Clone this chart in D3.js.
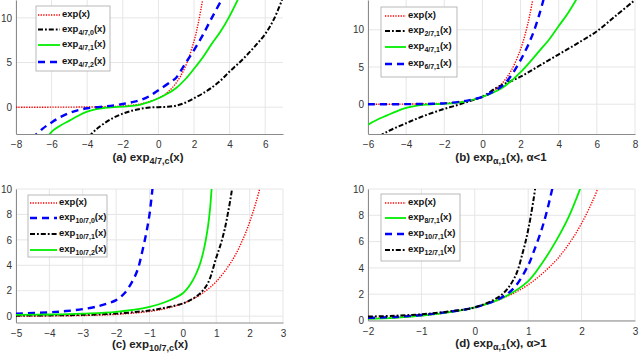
<!DOCTYPE html>
<html>
<head>
<meta charset="utf-8">
<script src="https://cdn.jsdelivr.net/npm/d3@7"></script>
<style>
  body { margin: 0; background: #fff; }
  svg { display: block; font-family: "Liberation Sans", Arial, sans-serif; }
</style>
</head>
<body>
<svg id="chart" width="640" height="360"></svg>
<script>
// DATA

// (a) exp_{4/7,c}(x)
const aExp = [[-8,0],[-5,0.01],[-3,0.05],[-2,0.14],[-1,0.37],[0,1],[0.5,1.65],[1,2.72],[1.5,4.48],[2,7.39],[2.25,9.5],[2.5,12.2]];
const aC0 = [[-3.9,-3.3],[-3.5,-2.5],[-3,-1.75],[-2.5,-1.15],[-2,-0.72],[-1.5,-0.4],[-1,-0.18],[-0.5,-0.04],[0,0],[0.5,0.04],[1,0.18],[1.5,0.5],[2,1.0],[2.5,1.55],[3,2.2],[3.5,3.0],[4,4.0],[4.5,4.9],[5,5.9],[5.5,7.0],[6,8.2],[6.5,9.9],[7,12.3]];
const aC1 = [[-6.2,-3.3],[-6,-2.75],[-5.5,-2.05],[-5,-1.5],[-4.5,-0.95],[-4,-0.5],[-3.5,-0.22],[-3,-0.06],[-2.5,0.01],[-2,0.06],[-1.5,0.14],[-1,0.3],[-0.5,0.6],[0,1],[0.5,1.5],[1,2.15],[1.5,3.1],[2,4.3],[2.5,5.6],[3,7.1],[3.5,8.5],[4,10.2],[4.5,12.2]];
const aC2 = [[-7.1,-3.5],[-6.5,-2.4],[-6,-1.7],[-5.5,-1.1],[-5,-0.65],[-4.5,-0.32],[-4,-0.12],[-3.5,0],[-3,0.08],[-2.5,0.2],[-2,0.36],[-1.5,0.55],[-1,0.8],[-0.5,1.25],[0,1.9],[0.7,2.85],[1,3.3],[1.45,4.7],[2,6.4],[2.5,8.1],[3,10.0],[3.6,12.2]];

// (b) exp_{alpha,1}(x), alpha<1
const bExp = [[-6,0],[-4,0.02],[-2,0.14],[-1,0.37],[0,1],[0.5,1.65],[1,2.72],[1.5,4.48],[2,7.39],[2.3,9.97],[2.5,12.2],[2.7,14.9]];
const bA2 = [[-5.4,-4.3],[-5,-3.7],[-4.5,-3.1],[-4,-2.55],[-3.5,-2.0],[-3,-1.5],[-2.5,-1.05],[-2,-0.62],[-1.5,-0.25],[-1,0.15],[-0.5,0.55],[0,1],[0.7,2.15],[1,2.55],[2,3.7],[3,5.2],[4,6.7],[5,8.2],[6,9.8],[7,11.9],[8,14]];
const bA4 = [[-6,-2.75],[-5.5,-2.05],[-5,-1.5],[-4.5,-0.95],[-4,-0.5],[-3.5,-0.22],[-3,-0.06],[-2.5,0.01],[-2,0.06],[-1.5,0.14],[-1,0.3],[-0.5,0.6],[0,1],[0.5,1.5],[1,2.15],[1.5,3.1],[2,4.3],[2.5,5.7],[3,7.2],[3.5,8.7],[4,10.5],[4.5,12.3],[5,14.4]];
const bA6 = [[-6,0],[-4,0.01],[-3,0.04],[-2,0.12],[-1,0.4],[-0.5,0.65],[0,1],[0.5,1.6],[1.1,2.6],[1.6,4.2],[2.2,6.9],[2.66,9.55],[3,12.2],[3.25,14.5]];

// (c) exp_{10/7,c}(x)
const cExp = [[-5,0.01],[-4,0.02],[-3,0.05],[-2,0.14],[-1,0.37],[-0.5,0.61],[0,1],[0.5,1.65],[1,2.72],[1.5,4.48],[1.8,6.05],[2,7.39],[2.2,9.03],[2.35,10.5]];
const cC0 = [[-5,0.2],[-4,0.3],[-3.5,0.4],[-3,0.55],[-2.5,0.8],[-2.25,1.0],[-2,1.26],[-1.75,1.8],[-1.5,2.8],[-1.35,3.7],[-1.25,4.7],[-1.1,6.5],[-1,8.0],[-0.9,10.3]];
const cC1 = [[-5,0.04],[-4,0.06],[-3,0.1],[-2,0.2],[-1,0.45],[-0.5,0.68],[0,1.0],[0.25,1.3],[0.5,1.75],[0.75,2.6],[1,4.6],[1.15,5.8],[1.25,6.8],[1.35,8.1],[1.45,9.6],[1.5,10.5]];
const cC2 = [[-5,0.1],[-4,0.13],[-3,0.2],[-2,0.34],[-1,0.73],[-0.5,1.13],[0,1.8],[0.25,2.6],[0.5,4.0],[0.65,5.5],[0.75,7.0],[0.82,8.6],[0.87,10.4]];

// (d) exp_{alpha,1}(x), alpha>1
const dExp = [[-2,0.14],[-1.5,0.22],[-1,0.37],[-0.5,0.61],[0,1],[0.5,1.65],[1,2.72],[1.5,4.48],[1.8,6.05],[2,7.39],[2.2,9.03],[2.35,10.5]];
const dA8 = [[-2,0.12],[-1.5,0.2],[-1,0.37],[-0.5,0.61],[0,1],[0.5,1.68],[1,3.0],[1.25,4.3],[1.5,5.9],[1.75,7.8],[2,10.3]];
const dA10 = [[-2,0.2],[-1.5,0.27],[-1,0.42],[-0.5,0.65],[0,1],[0.5,1.75],[0.75,2.55],[1,4.2],[1.1,5.2],[1.25,6.9],[1.35,8.3],[1.45,10.0],[1.5,10.8]];
const dA12 = [[-2,0.3],[-1.5,0.36],[-1,0.47],[-0.5,0.68],[0,1],[0.5,1.95],[0.75,3.3],[0.9,5.2],[1,6.9],[1.1,9.2],[1.15,10.6]];

// Axis ranges and tick labels
const aXDomain = [-8, 7], aYDomain = [-3, 12];
const bXDomain = [-6, 8], bYDomain = [-4, 14];
const cXDomain = [-5, 3], cYDomain = [-0.5, 10];
const dXDomain = [-2, 3], dYDomain = [0, 10];
const aXTicks = [-8, -6, -4, -2, 0, 2, 4, 6], aYTicks = [0, 5, 10];
const bXTicks = [-6, -4, -2, 0, 2, 4, 6, 8], bYTicks = [0, 5, 10];
const cXTicks = [-5, -4, -3, -2, -1, 0, 1, 2, 3], cYTicks = [0, 2, 4, 6, 8, 10];
const dXTicks = [-2, -1, 0, 1, 2, 3], dYTicks = [0, 2, 4, 6, 8, 10];

// Legend subscripts (label is "exp" + sub + "(x)", null sub means plain exp(x))
const aLegend = [null, "4/7,0", "4/7,1", "4/7,2"];
const bLegend = [null, "2/7,1", "4/7,1", "6/7,1"];
const cLegend = [null, "10/7,0", "10/7,1", "10/7,2"];
const dLegend = [null, "8/7,1", "10/7,1", "12/7,1"];

// Line styles
const styles = {
  red:   { color: "#ff0000", width: 1.4, dash: "1.3,1.3" },
  black: { color: "#000000", width: 2,   dash: "5,2,1.8,2" },
  green: { color: "#00ee00", width: 1.8, dash: null },
  blue:  { color: "#0000ff", width: 2.4, dash: "7,5" }
};

// Layout of each panel (pixels)
const panels = [
  { id: "a", left: 16, right: 283, top: 0, bottom: 134,
    xd: aXDomain, yd: aYDomain, xt: aXTicks, yt: aYTicks,
    series: [aExp, aC0, aC1, aC2], sty: ["red", "black", "green", "blue"], leg: aLegend,
    lg: { x: 36, y: 6, w: 74, h: 65, rows: [15, 29.5, 45, 62], lx0: 38, lx1: 60, tx: 62 },
    title: { x: 148, y: 161, pre: "(a) exp", sub: "4/7,c", post: "(x)" } },
  { id: "b", left: 368, right: 635, top: 0, bottom: 134,
    xd: bXDomain, yd: bYDomain, xt: bXTicks, yt: bYTicks,
    series: [bExp, bA2, bA4, bA6], sty: ["red", "black", "green", "blue"], leg: bLegend,
    lg: { x: 381, y: 7, w: 76, h: 70, rows: [16, 31, 47, 64], lx0: 385, lx1: 406, tx: 408 },
    title: { x: 501, y: 161, pre: "(b) exp", sub: "\u03B1,1", post: "(x), \u03B1<1" } },
  { id: "c", left: 16, right: 283, top: 189, bottom: 322.5,
    xd: cXDomain, yd: cYDomain, xt: cXTicks, yt: cYTicks,
    series: [cExp, cC0, cC1, cC2], sty: ["red", "blue", "black", "green"], leg: cLegend,
    lg: { x: 28, y: 195, w: 79, h: 62, rows: [203, 218, 234, 250], lx0: 30, lx1: 57, tx: 59 },
    title: { x: 150, y: 348, pre: "(c) exp", sub: "10/7,c", post: "(x)" } },
  { id: "d", left: 368, right: 635, top: 189, bottom: 320.5,
    xd: dXDomain, yd: dYDomain, xt: dXTicks, yt: dYTicks,
    series: [dExp, dA8, dA10, dA12], sty: ["red", "green", "blue", "black"], leg: dLegend,
    lg: { x: 381, y: 194, w: 79, h: 67, rows: [203, 218, 234, 250], lx0: 385, lx1: 406, tx: 408 },
    title: { x: 501, y: 347, pre: "(d) exp", sub: "\u03B1,1", post: "(x), \u03B1>1" } }
];

const svg = d3.select("#chart");
const defs = svg.append("defs");

function styleLine(sel, s) {
  sel.attr("fill", "none")
    .attr("stroke", s.color)
    .attr("stroke-width", s.width)
    .attr("stroke-dasharray", s.dash);
}

// Put "exp" + subscript + rest into a text element
function expLabel(text, pre, sub, post, subSize) {
  text.append("tspan").text(pre);
  if (sub) {
    text.append("tspan").attr("dy", 3).attr("font-size", subSize).text(sub);
    text.append("tspan").attr("dy", -3).text(post);
  } else {
    text.append("tspan").text(post);
  }
}

panels.forEach(p => {
  const x = d3.scaleLinear().domain(p.xd).range([p.left, p.right]);
  const y = d3.scaleLinear().domain(p.yd).range([p.bottom, p.top]);
  const g = svg.append("g");

  // grid
  g.selectAll(".vg").data(p.xt).enter().append("line")
    .attr("x1", d => x(d)).attr("x2", d => x(d))
    .attr("y1", p.top).attr("y2", p.bottom)
    .attr("stroke", "#e6e6e6").attr("stroke-width", 1);
  g.selectAll(".hg").data(p.yt).enter().append("line")
    .attr("x1", p.left).attr("x2", p.right)
    .attr("y1", d => y(d)).attr("y2", d => y(d))
    .attr("stroke", "#e6e6e6").attr("stroke-width", 1);

  // axes (tick labels from d3 axis, lines drawn plain)
  const xAxis = g.append("g").attr("transform", "translate(0," + p.bottom + ")")
    .call(d3.axisBottom(x).tickValues(p.xt).tickSize(0).tickPadding(7).tickFormat(d3.format("d")));
  const yAxis = g.append("g").attr("transform", "translate(" + p.left + ",0)")
    .call(d3.axisLeft(y).tickValues(p.yt).tickSize(0).tickPadding(4).tickFormat(d3.format("d")));
  [xAxis, yAxis].forEach(a => {
    a.select(".domain").attr("stroke", "#8a8a8a").attr("stroke-width", 1);
    a.selectAll("text").attr("font-size", 10).attr("fill", "#333")
      .attr("font-family", "Liberation Sans, Arial, sans-serif");
  });

  // curves
  defs.append("clipPath").attr("id", "clip-" + p.id).append("rect")
    .attr("x", p.left).attr("y", p.top)
    .attr("width", p.right - p.left).attr("height", p.bottom - p.top);
  const line = d3.line().x(d => x(d[0])).y(d => y(d[1])).curve(d3.curveCatmullRom.alpha(0.5));
  const curves = g.append("g").attr("clip-path", "url(#clip-" + p.id + ")");
  p.series.forEach((s, i) => {
    curves.append("path").datum(s).attr("d", line).call(styleLine, styles[p.sty[i]]);
  });

  // legend
  const lg = g.append("g");
  lg.append("rect").attr("x", p.lg.x).attr("y", p.lg.y)
    .attr("width", p.lg.w).attr("height", p.lg.h)
    .attr("fill", "#fff").attr("stroke", "#a8a8a8").attr("stroke-width", 0.8);
  p.leg.forEach((sub, i) => {
    const ry = p.lg.rows[i];
    lg.append("line").attr("x1", p.lg.lx0).attr("x2", p.lg.lx1)
      .attr("y1", ry).attr("y2", ry).call(styleLine, styles[p.sty[i]]);
    const t = lg.append("text").attr("x", p.lg.tx).attr("y", ry + 2)
      .attr("font-size", 9.5).attr("font-weight", "bold").attr("fill", "#111");
    expLabel(t, "exp", sub, "(x)", 7);
  });

  // title
  const t = g.append("text").attr("x", p.title.x).attr("y", p.title.y)
    .attr("text-anchor", "middle").attr("font-size", 11.5)
    .attr("font-weight", "bold").attr("fill", "#222");
  expLabel(t, p.title.pre, p.title.sub, p.title.post, 9);
});
</script>
</body>
</html>
